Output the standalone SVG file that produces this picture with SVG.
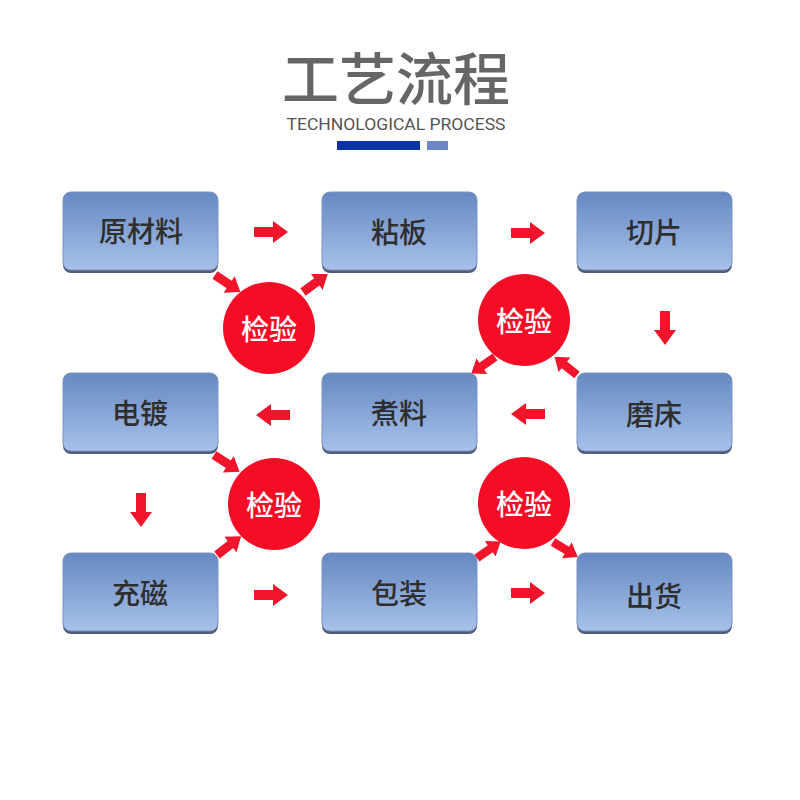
<svg xmlns="http://www.w3.org/2000/svg" width="800" height="800" viewBox="0 0 800 800">
<defs>
<linearGradient id="bg" x1="0" y1="0" x2="0" y2="1">
<stop offset="0" stop-color="#6689c2"/>
<stop offset="1" stop-color="#a7c1ea"/>
</linearGradient>
<polygon id="arr" points="0,-5 19,-5 19,-11 34,0 19,11 19,5 0,5"/>
<style>
.sh{fill:#4f5d78}
.bx{fill:url(#bg);stroke:#7a94c0;stroke-width:1}
.bt{font-family:"Noto Sans CJK SC",sans-serif;font-size:28px;font-weight:500;fill:#2e2e2e;text-anchor:middle}
.ck{fill:#f50c25}
.ct{font-family:"Noto Sans CJK SC",sans-serif;font-size:28px;font-weight:500;fill:#ffffff;text-anchor:middle}
.ar{fill:#f0152a}
</style>
</defs>
<rect width="800" height="800" fill="#ffffff"/>
<g id="title">
<text x="396" y="100" font-family="'Noto Sans CJK SC',sans-serif" font-size="57" font-weight="500" fill="#666666" text-anchor="middle">工艺流程</text>
<text x="396" y="130" font-family="Roboto,'Liberation Sans',sans-serif" font-size="17" fill="#555555" text-anchor="middle" textLength="219" lengthAdjust="spacingAndGlyphs">TECHNOLOGICAL PROCESS</text>
<rect x="337" y="141" width="83" height="9" fill="#0a34a6"/>
<rect x="427" y="141" width="21" height="9" fill="#6d87c6"/>
</g>
<g id="n1"><rect class="sh" x="63" y="195" width="155" height="78" rx="8"/><rect class="bx" x="63" y="192" width="155" height="78" rx="8"/><text class="bt" x="141" y="242">原材料</text></g>
<g id="n2"><rect class="sh" x="322" y="195" width="155" height="78" rx="8"/><rect class="bx" x="322" y="192" width="155" height="78" rx="8"/><text class="bt" x="399" y="243">粘板</text></g>
<g id="n3"><rect class="sh" x="577" y="195" width="155" height="78" rx="8"/><rect class="bx" x="577" y="192" width="155" height="78" rx="8"/><text class="bt" x="654" y="243">切片</text></g>
<g id="n4"><rect class="sh" x="63" y="376" width="155" height="78" rx="8"/><rect class="bx" x="63" y="373" width="155" height="78" rx="8"/><text class="bt" x="140" y="424">电镀</text></g>
<g id="n5"><rect class="sh" x="322" y="376" width="155" height="78" rx="8"/><rect class="bx" x="322" y="373" width="155" height="78" rx="8"/><text class="bt" x="399" y="424">煮料</text></g>
<g id="n6"><rect class="sh" x="577" y="376" width="155" height="78" rx="8"/><rect class="bx" x="577" y="373" width="155" height="78" rx="8"/><text class="bt" x="654" y="425">磨床</text></g>
<g id="n7"><rect class="sh" x="63" y="556" width="155" height="78" rx="8"/><rect class="bx" x="63" y="553" width="155" height="78" rx="8"/><text class="bt" x="140" y="604">充磁</text></g>
<g id="n8"><rect class="sh" x="322" y="556" width="155" height="78" rx="8"/><rect class="bx" x="322" y="553" width="155" height="78" rx="8"/><text class="bt" x="399" y="604">包装</text></g>
<g id="n9"><rect class="sh" x="577" y="556" width="155" height="78" rx="8"/><rect class="bx" x="577" y="553" width="155" height="78" rx="8"/><text class="bt" x="654" y="607">出货</text></g>
<g id="c1"><circle class="ck" cx="269" cy="328" r="46"/><text class="ct" x="269" y="340">检验</text></g>
<g id="c2"><circle class="ck" cx="524" cy="320" r="46"/><text class="ct" x="524" y="332">检验</text></g>
<g id="c3"><circle class="ck" cx="274" cy="504" r="46"/><text class="ct" x="274" y="516">检验</text></g>
<g id="c4"><circle class="ck" cx="524" cy="503" r="46"/><text class="ct" x="524" y="515">检验</text></g>
<g id="connectors" class="ar">
<use href="#arr" transform="translate(254,232)"/>
<use href="#arr" transform="translate(511,233)"/>
<use href="#arr" transform="translate(665,311) rotate(90)"/>
<use href="#arr" transform="translate(545,414) rotate(180)"/>
<use href="#arr" transform="translate(290,415) rotate(180)"/>
<use href="#arr" transform="translate(141,493) rotate(90)"/>
<use href="#arr" transform="translate(254,595)"/>
<use href="#arr" transform="translate(511,593)"/>
<use href="#arr" transform="translate(215,275) rotate(34) scale(0.9)"/>
<use href="#arr" transform="translate(303,292) rotate(-36) scale(0.9)"/>
<use href="#arr" transform="translate(495,357) rotate(145) scale(0.85)"/>
<use href="#arr" transform="translate(577,375) rotate(-141) scale(0.85)"/>
<use href="#arr" transform="translate(214,455) rotate(33) scale(0.9)"/>
<use href="#arr" transform="translate(217,555) rotate(-38) scale(0.9)"/>
<use href="#arr" transform="translate(477,558) rotate(-35) scale(0.85)"/>
<use href="#arr" transform="translate(553,542) rotate(31) scale(0.85)"/>
</g>
</svg>
